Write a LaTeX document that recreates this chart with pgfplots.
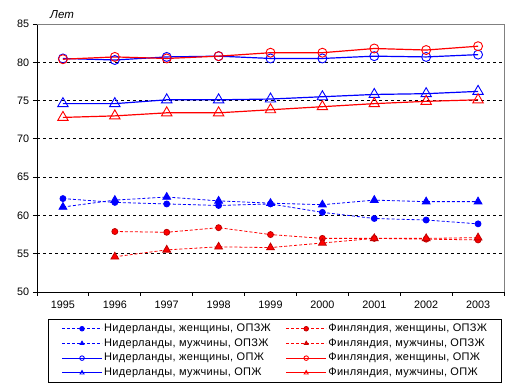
\documentclass[border=0pt]{standalone}
\usepackage{fontspec}
\setmainfont{Liberation Sans}
\newfontfamily\legfont[LetterSpace=3]{Liberation Sans}
\usepackage{pgfplots}
\pgfplotsset{compat=1.18}
\definecolor{xblue}{RGB}{0,0,255}
\definecolor{xred}{RGB}{255,0,0}
\begin{document}
\fontsize{10.8bp}{13bp}\selectfont
\begin{tikzpicture}
\path[use as bounding box] (0,0) rectangle (519bp,390bp);
\begin{axis}[
  at={(37bp,98bp)}, anchor=south west,
  scale only axis, width=467bp, height=268bp,
  xmin=0.5, xmax=9.5, ymin=50, ymax=85,
  axis x line=bottom, axis y line=left,
  axis line style={black, line width=0.8bp, -},
  xtick={1,...,9},
  xticklabels={1995,1996,1997,1998,1999,2000,2001,2002,2003},
  major x tick style={draw=none},
  minor xtick={0.5,1.5,...,9.5},
  minor x tick style={black, line width=0.8bp},
  minor tick length=4bp,
  ytick={50,55,...,85},
  major tick length=4bp,
  tick align=outside,
  y tick style={black, line width=0.8bp},
  extra y ticks={55,60,...,80},
  extra y tick labels={},
  extra y tick style={grid=major, major tick length=0pt, major grid style={black, line width=0.8bp, dash pattern=on 3bp off 3bp}},
  ticklabel style={font=\fontsize{10.8bp}{13bp}\selectfont},
  /pgf/number format/assume math mode=true,
  xticklabel style={yshift=-1bp},
  clip=false,
  legend columns=2,
  legend cell align=left,
  legend style={at={(0.0236,-0.1007)}, anchor=north west, draw=black, line width=0.8bp,
    inner xsep=13bp, inner ysep=2bp,
    nodes={font=\legfont\fontsize{11bp}{13bp}\selectfont, text height=7.8bp, text depth=2.4bp, inner ysep=2.25bp, inner xsep=1.5bp},
    column sep=0bp, row sep=0bp,
  },
  legend image code/.code={\draw[mark repeat=2,mark phase=2,#1,mark size=2.3bp] plot coordinates {(0bp,0bp) (20bp,0bp) (40bp,0bp)};},
]
% row 1
\addplot[xblue, line width=0.8bp, dash pattern=on 3bp off 2bp, mark=*, mark size=3bp, mark options={solid, fill=xblue}]
  coordinates {(1,62.2) (2,61.7) (3,61.5) (4,61.3) (5,61.5) (6,60.4) (7,59.6) (8,59.4) (9,58.9)};
\addlegendentry{\makebox[180bp][l]{Нидерланды, женщины, ОПЗЖ}}
\addplot[xred, line width=0.8bp, dash pattern=on 3bp off 2bp, mark=*, mark size=3bp, mark options={solid, fill=xred, draw=red!75!black}]
  coordinates {(2,57.9) (3,57.8) (4,58.4) (5,57.5) (6,57.0) (7,57.0) (8,56.9) (9,56.8)};
\addlegendentry{Финляндия, женщины, ОПЗЖ}
% row 2
\addplot[xblue, line width=0.8bp, dash pattern=on 3bp off 2bp, mark=triangle*, mark size=4.5bp, mark options={solid, fill=xblue}]
  coordinates {(1,61.1) (2,62.0) (3,62.4) (4,61.9) (5,61.6) (6,61.4) (7,62.0) (8,61.8) (9,61.8)};
\addlegendentry{\makebox[180bp][l]{Нидерланды, мужчины, ОПЗЖ}}
\addplot[xred, line width=0.8bp, dash pattern=on 3bp off 2bp, mark=triangle*, mark size=4.5bp, mark options={solid, fill=xred, draw=red!75!black}]
  coordinates {(2,54.6) (3,55.5) (4,55.9) (5,55.8) (6,56.4) (7,57.0) (8,57.0) (9,57.1)};
\addlegendentry{Финляндия, мужчины, ОПЗЖ}
% row 3
\addplot[xblue, line width=1.2bp, mark=o, mark size=4.5bp, mark options={solid, fill=white, line width=0.9bp}]
  coordinates {(1,80.5) (2,80.3) (3,80.7) (4,80.8) (5,80.5) (6,80.5) (7,80.8) (8,80.7) (9,81.0)};
\addlegendentry{\makebox[180bp][l]{Нидерланды, женщины, ОПЖ}}
\addplot[xred, line width=1.2bp, mark=o, mark size=4.5bp, mark options={solid, fill=white, line width=0.9bp}]
  coordinates {(1,80.4) (2,80.7) (3,80.5) (4,80.8) (5,81.25) (6,81.25) (7,81.8) (8,81.6) (9,82.1)};
\addlegendentry{Финляндия, женщины, ОПЖ}
% row 4
\addplot[xblue, line width=1.2bp, mark=triangle, mark size=6bp, mark options={solid, fill=white, line width=0.9bp}]
  coordinates {(1,74.6) (2,74.6) (3,75.1) (4,75.1) (5,75.2) (6,75.5) (7,75.8) (8,75.9) (9,76.2)};
\addlegendentry{\makebox[180bp][l]{Нидерланды, мужчины, ОПЖ}}
\addplot[xred, line width=1.2bp, mark=triangle, mark size=6bp, mark options={solid, fill=white, line width=0.9bp}]
  coordinates {(1,72.8) (2,73.0) (3,73.4) (4,73.4) (5,73.8) (6,74.2) (7,74.6) (8,74.9) (9,75.1)};
\addlegendentry{Финляндия, мужчины, ОПЖ}
\draw[gray, line width=0.8bp] (rel axis cs:0,1) -- (rel axis cs:1,1) -- (rel axis cs:1,0);
\node[anchor=base west, font=\itshape\fontsize{11.5bp}{13bp}\selectfont, inner sep=0pt] at (rel axis cs:0,1) [xshift=13bp, yshift=5bp] {Лет};
\end{axis}
\end{tikzpicture}
\end{document}
